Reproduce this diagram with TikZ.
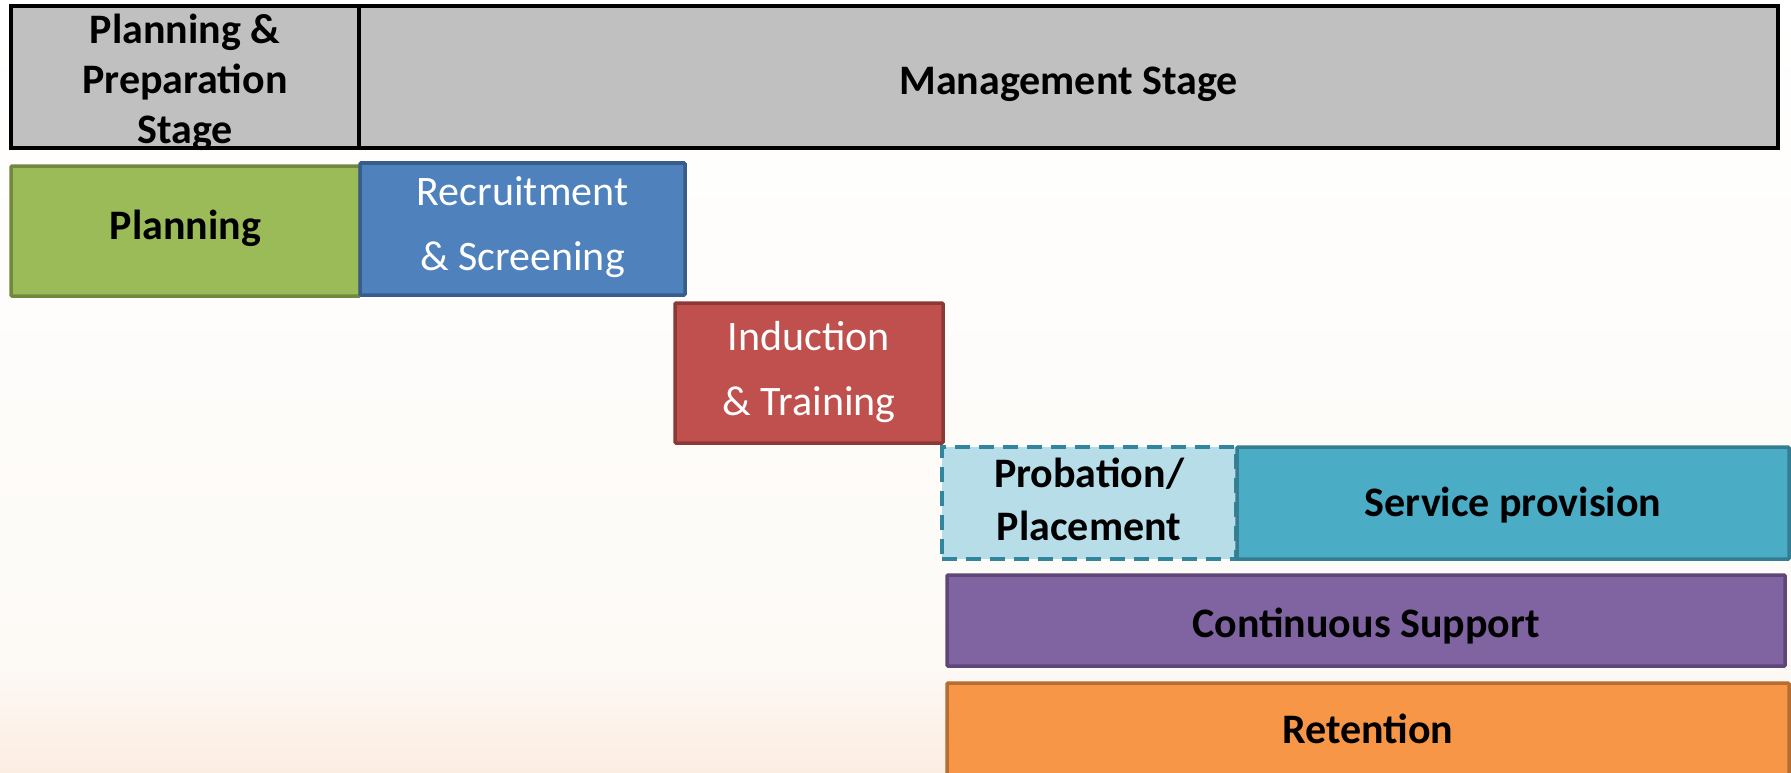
\documentclass[tikz,border=0pt]{standalone}
\usepackage{fontspec}
\setmainfont{Carlito}
\definecolor{hdrF}{RGB}{192,192,192}
\definecolor{washA}{RGB}{253,250,246}
\definecolor{peach}{RGB}{252,237,226}
\definecolor{grnF}{RGB}{155,187,89}\definecolor{grnD}{RGB}{113,137,63}
\definecolor{bluF}{RGB}{79,129,189}\definecolor{bluD}{RGB}{56,93,138}
\definecolor{redF}{RGB}{192,80,77}\definecolor{redD}{RGB}{140,56,54}
\definecolor{aquL}{RGB}{183,221,232}\definecolor{aquD}{RGB}{49,133,156}
\definecolor{aquF}{RGB}{75,172,198}\definecolor{aquE}{RGB}{53,125,145}
\definecolor{purF}{RGB}{128,100,162}\definecolor{purD}{RGB}{92,71,118}
\definecolor{orgF}{RGB}{247,150,70}\definecolor{orgD}{RGB}{182,109,49}
\begin{document}
\begin{tikzpicture}[x=1pt,y=-1pt,
  every node/.style={align=center, inner sep=0pt},
  header/.style={draw=black, line width=4.8pt, fill=hdrF},
  hdrtext/.style={text=black, font=\fontsize{42}{50}\selectfont\bfseries},
  phase/.style={line width=3.5pt, rounded corners=1pt},
  darktext/.style={text=black, font=\fontsize{42}{53}\selectfont\bfseries},
  lighttext/.style={text=white, font=\fontsize{42}{65}\selectfont}
]
% page and soft background wash
\useasboundingbox (0,0) rectangle (1791,773);
\shade[top color=white, bottom color=washA] (0,0) rectangle (1791,660);
\shade[top color=washA, bottom color=peach] (0,659) rectangle (1791,773);

% stage header row
\node[header, minimum width=348pt, minimum height=142pt] (prep) at (185,77) {};
\node[hdrtext] (preplbl) at (185,82) {Planning \&\\Preparation\\Stage};
\node[header, minimum width=1419pt, minimum height=142pt] (mgmt) at (1068.5,77) {};
\node[hdrtext] (mgmtlbl) at (1068.5,84) {Management Stage};

% activity blocks
\node[phase, draw=grnD, fill=grnF, minimum width=349pt, minimum height=130pt] (plan) at (185.5,231) {};
\node[darktext] (planlbl) at (185.5,228) {Planning};
\node[phase, draw=bluD, fill=bluF, minimum width=325pt, minimum height=132pt] (recruit) at (522.5,229) {};
\node[lighttext] (recruitlbl) at (522.5,227) {Recruitment\\\& Screening};
\node[phase, draw=redD, fill=redF, minimum width=268pt, minimum height=140pt] (induct) at (809,373) {};
\node[lighttext] (inductlbl) at (809,372) {Induction\\\& Training};
\node[line width=3.5pt, draw=aquD, dash pattern=on 15pt off 9pt, fill=aquL, minimum width=294pt, minimum height=112pt] (prob) at (1089,503) {};
\node[darktext] (problbl) at (1089,499) {Probation/\\Placement};
\node[phase, draw=aquE, fill=aquF, minimum width=552pt, minimum height=112pt] (service) at (1513,503) {};
\node[darktext] (servicelbl) at (1513,505) {Service provision};
\node[phase, draw=purD, fill=purF, minimum width=838pt, minimum height=91pt] (support) at (1366,620.5) {};
\node[darktext] (supportlbl) at (1366,626) {Continuous Support};
\node[phase, draw=orgD, fill=orgF, minimum width=842pt, minimum height=104pt] (retain) at (1368,735) {};
\node[darktext] (retainlbl) at (1368,729) {Retention};
\end{tikzpicture}
\end{document}
